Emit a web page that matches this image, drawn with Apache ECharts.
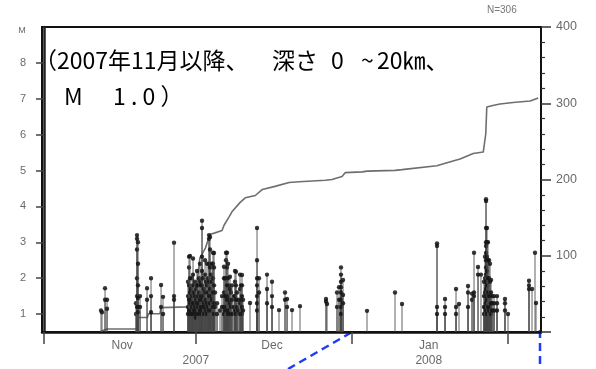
<!DOCTYPE html>
<html>
<head>
<meta charset="utf-8">
<style>
  html, body { margin: 0; padding: 0; background: #fff; }
  #chart { width: 596px; height: 369px; }
</style>
<script src="https://cdn.jsdelivr.net/npm/echarts@6.0.0/dist/echarts.min.js"></script>
</head>
<body>
<div id="chart"></div>
<script>
// days counted from 2007-11-01 00:00
const monthTickDays = [0, 30, 61, 92];
const labelDays = [15.5, 30.1, 45.2, 76.3];
const labelTexts = ['Nov', '\n2007', 'Dec', 'Jan\n2008'];
const magTicks = [1, 2, 3, 4, 5, 6, 7, 8];

// one stem per day position, with the magnitudes of the events on it
const stemDays = [
  11.3, 11.5, 12.1, 12.5, 18.24, 18.44, 18.64, 19.04, 20.43, 21.22, 23.21, 23.6, 25.78,
  28.55, 28.75, 28.95, 29.15, 29.35, 29.55, 29.74, 29.94, 30.14, 30.34, 30.54, 30.74,
  30.93, 31.13, 31.33, 31.53, 31.73, 31.93, 32.12, 32.32, 32.52, 32.72, 32.92, 33.12,
  33.31, 33.51, 33.71, 33.91, 34.31, 34.9, 35.3, 35.69, 35.89, 36.09, 36.29, 36.49,
  36.68, 36.88, 37.08, 37.28, 37.68, 37.87, 38.07, 38.27, 38.47, 38.87, 39.06, 39.26,
  39.46, 40.85, 42.24, 42.63, 44.22, 45.21, 46.6, 47.79, 48.19, 49.18, 50.76,
  55.92, 56.12, 58.1, 58.5, 58.89, 59.29, 64.05, 69.6, 70.99, 77.93, 79.52, 81.7,
  82.29, 84.08, 84.87, 85.27, 86.06, 86.65, 87.25, 87.45, 87.65, 87.84, 88.04, 88.24,
  88.44, 88.64, 88.84, 89.23, 89.83, 91.41, 92.01, 96.17, 96.77, 97.36, 97.56
];
const stemMags = [
  [1.1], [1.05], [1.72, 1.4], [1.4, 1.15], [1.0, 1.3], [3.2, 3.1, 2.8, 2.0, 1.5, 1.2],
  [3.0, 2.4, 1.8, 1.45, 1.2, 1.05], [1.5, 1.2], [1.72, 1.4], [2.0, 1.5, 1.05], [1.81, 1.2],
  [1.48, 1.0], [2.99, 1.5, 1.4],
  [1.9, 1.5, 1.2, 1.0], [2.6, 2.3, 1.8, 1.4, 1.1], [2.62, 2.0, 1.6, 1.3, 1.0], [1.7, 1.4, 1.1],
  [2.0, 1.5, 1.2, 1.0], [2.55, 2.1, 1.8, 1.3, 1.0], [1.6, 1.3, 1.1], [1.9, 1.5, 1.2, 1.0],
  [1.7, 1.4, 1.1, 0.9], [2.2, 1.8, 1.3, 1.0], [1.8, 1.5, 1.2], [2.0, 1.6, 1.3, 1.0],
  [2.4, 1.9, 1.4, 1.1], [1.8, 1.5, 1.2, 1.0], [3.6, 3.4, 2.6, 2.2, 1.8, 1.4, 1.1], [2.0, 1.5, 1.2],
  [1.7, 1.3, 1.0], [2.5, 2.1, 1.6, 1.2], [1.9, 1.4, 1.1], [2.4, 1.8, 1.3, 1.0], [2.0, 1.6, 1.2],
  [3.2, 3.1, 2.4, 1.9, 1.5, 1.1], [3.15, 2.8, 2.3, 1.7, 1.3], [2.1, 1.5, 1.1],
  [2.4, 1.9, 1.4], [2.71, 2.4, 2.0, 1.6, 1.2], [2.7, 2.3, 1.8, 1.3, 1.0], [1.6, 1.2], [1.3, 1.0],
  [1.1], [1.5, 1.2], [2.32, 2.0, 1.6, 1.2, 1.0], [2.0, 1.5, 1.1], [2.71, 2.5, 2.0, 1.5, 1.2],
  [2.71, 2.3, 1.8, 1.4, 1.1], [2.4, 2.0, 1.5, 1.0],
  [1.8, 1.4, 1.1], [2.04, 1.7, 1.3, 1.0], [1.6, 1.2], [1.8, 1.4, 1.0], [1.5, 1.2],
  [2.2, 1.9, 1.5, 1.1], [2.18, 1.8, 1.4, 1.0], [1.6, 1.2], [1.4, 1.1], [2.1, 1.7, 1.3, 1.0],
  [1.8, 1.4], [2.09, 1.8, 1.5, 1.2, 1.0],
  [1.4, 1.1], [1.31], [3.4, 2.5, 2.0, 1.8, 1.5, 1.3, 1.1], [2.0, 1.6], [2.1, 1.7, 1.3],
  [1.9, 1.5, 1.2], [1.11], [1.6, 1.4], [1.42, 1.2], [1.11], [1.22],
  [1.42, 1.35], [1.28], [1.6, 1.2], [1.75, 1.4], [2.3, 2.1, 1.9, 1.75, 1.6, 1.4, 1.2, 1.0],
  [1.95, 1.53, 1.3], [1.09], [1.6], [1.28], [2.97, 2.9, 1.2, 1.0], [1.42, 1.2, 1.0],
  [1.7, 1.2, 1.0],
  [1.28], [1.78, 1.6, 1.2], [1.57, 1.4], [2.71, 1.6, 1.5], [2.31, 2.1], [2.1],
  [1.9, 1.5, 1.2, 1.0], [2.6, 2.0, 1.6, 1.2],
  [4.2, 4.15, 3.4, 3.0, 2.9, 2.7, 2.5, 2.3, 2.1, 1.9, 1.7, 1.5, 1.3, 1.1],
  [3.4, 3.0, 2.6, 2.2, 1.8, 1.4, 1.0], [3.0, 2.5, 2.0, 1.6, 1.2],
  [2.5, 2.0, 1.5, 1.1], [2.4, 1.9, 1.5, 1.2], [1.95, 1.6, 1.3, 1.0], [1.5, 1.3, 1.1],
  [1.5, 1.3, 1.1], [1.5, 1.3, 1.1], [1.42, 1.3, 1.1], [1.0], [1.93, 1.8, 1.7], [1.7],
  [2.71], [1.31]
];

// cumulative number of events (right axis)
const cumDays = [
  11.3, 12.1, 12.5, 18.4, 18.6, 20.5, 20.7, 23.0, 23.2, 28.6, 29.5, 30.3, 30.9, 32.0,
  32.9, 33.9, 35.3, 35.7, 36.7, 37.3, 38.9, 39.9, 41.9, 43.3, 45.8, 48.6, 50.6, 55.8,
  57.1, 59.1, 59.7, 63.1, 64.1, 69.6, 71.0, 77.9, 79.9, 82.5, 85.1, 87.1, 87.6, 87.8,
  89.0, 90.4, 93.0, 96.4, 98.0
];
const cumCounts = [
  1, 3, 4, 4, 19, 19, 24, 24, 32, 33, 45, 60, 97, 110,
  128, 130, 133, 140, 151, 158, 170, 176, 179, 187, 191, 196, 197, 199,
  200, 204, 209, 210, 211, 212, 213, 218, 222, 227, 234, 236, 260, 295,
  297, 299, 301, 303, 307
];

const MAG_BASE = 0.5;

const events = [];
stemDays.forEach((d, i) => {
  stemMags[i].forEach(m => events.push([d, m]));
});
const cumData = cumDays.map((d, i) => [d, cumCounts[i]]);

const chart = echarts.init(document.getElementById('chart'));

const labelFont = { color: '#6a6a6a', fontSize: 12, fontFamily: 'Liberation Sans, Arial, sans-serif' };
const jpFont = { fill: '#000', fontSize: 23, fontFamily: 'Noto Sans CJK JP' };

const option = {
  animation: false,
  grid: {
    left: 42, right: 55, top: 27, bottom: 37,
    show: true, borderColor: '#111', borderWidth: 2, backgroundColor: 'transparent'
  },
  xAxis: {
    type: 'value',
    min: -0.4,
    max: 98.55,
    splitLine: { show: false },
    axisLine: { show: true, onZero: false, lineStyle: { color: '#111', width: 2.5 } },
    axisTick: {
      show: true, customValues: monthTickDays, length: 12,
      lineStyle: { color: '#444', width: 1.5 }
    },
    axisLabel: {
      customValues: labelDays,
      margin: 6,
      lineHeight: 15,
      ...labelFont,
      formatter: v => {
        const i = labelDays.indexOf(v);
        return i >= 0 ? labelTexts[i] : '';
      }
    }
  },
  yAxis: [
    {
      type: 'value',
      min: MAG_BASE,
      max: 9,
      name: 'M',
      nameLocation: 'end',
      nameGap: -8,
      nameTextStyle: { ...labelFont, fontSize: 9, padding: [0, 44, 0, 0] },
      splitLine: { show: false },
      axisLine: { show: true, lineStyle: { color: '#222', width: 2.5 } },
      axisTick: { show: true, customValues: magTicks, length: 8, lineStyle: { color: '#444', width: 1.5 } },
      axisLabel: { customValues: magTicks, margin: 16, ...labelFont, fontSize: 11 }
    },
    {
      type: 'value',
      position: 'right',
      min: 0,
      max: 400,
      interval: 100,
      splitLine: { show: false },
      axisLine: { show: true, lineStyle: { color: '#111', width: 2 } },
      axisTick: { show: true, length: 10, lineStyle: { color: '#333', width: 1.5 } },
      minorTick: { show: true, splitNumber: 5, length: 4, lineStyle: { color: '#333', width: 1.2 } },
      minorSplitLine: { show: false },
      axisLabel: { showMinLabel: false, margin: 15, ...labelFont, fontSize: 12.5 }
    }
  ],
  series: [
    {
      type: 'line',
      yAxisIndex: 1,
      data: cumData,
      showSymbol: false,
      symbol: 'none',
      z: 1,
      lineStyle: { color: '#6e6e6e', width: 1.6 }
    },
    {
      type: 'custom',
      yAxisIndex: 0,
      z: 2,
      data: events,
      renderItem: (params, api) => {
        const d = api.value(0);
        const m = api.value(1);
        const top = api.coord([d, m]);
        const base = api.coord([d, MAG_BASE]);
        return {
          type: 'group',
          children: [
            {
              type: 'line',
              shape: { x1: base[0], y1: base[1], x2: top[0], y2: top[1] },
              style: { stroke: 'rgba(70,70,70,0.6)', lineWidth: 1.4 }
            },
            {
              type: 'circle',
              shape: { cx: top[0], cy: top[1], r: 2.2 },
              style: { fill: 'rgba(20,20,20,0.85)' }
            }
          ]
        };
      }
    }
  ],
  graphic: [
    {
      type: 'text', left: 487, top: 5,
      style: { text: 'N=306', fill: '#777', fontSize: 10, fontFamily: 'Liberation Sans, Arial, sans-serif' }
    },
    { type: 'text', left: 34, top: 49, style: { text: '（2007年11月以降、', ...jpFont } },
    { type: 'text', left: 272, top: 49, style: { text: '深さ', ...jpFont } },
    { type: 'text', left: 331, top: 49, style: { text: '0', ...jpFont } },
    { type: 'text', left: 361, top: 49, style: { text: '~', ...jpFont } },
    { type: 'text', left: 377, top: 49, style: { text: '20㎞、', ...jpFont } },
    { type: 'text', left: 64, top: 85, style: { text: 'M', ...jpFont } },
    { type: 'text', left: 113, top: 85, style: { text: '1 . 0 ）', ...jpFont } },
    {
      type: 'line',
      shape: { x1: 288, y1: 369, x2: 352, y2: 332 },
      style: { stroke: '#1f3cf5', lineWidth: 2.5, lineDash: [8, 5] }
    },
    {
      type: 'line',
      shape: { x1: 540, y1: 330, x2: 540, y2: 369 },
      style: { stroke: '#1f3cf5', lineWidth: 2.5, lineDash: [8, 5] }
    }
  ]
};

chart.setOption(option);
</script>
</body>
</html>
